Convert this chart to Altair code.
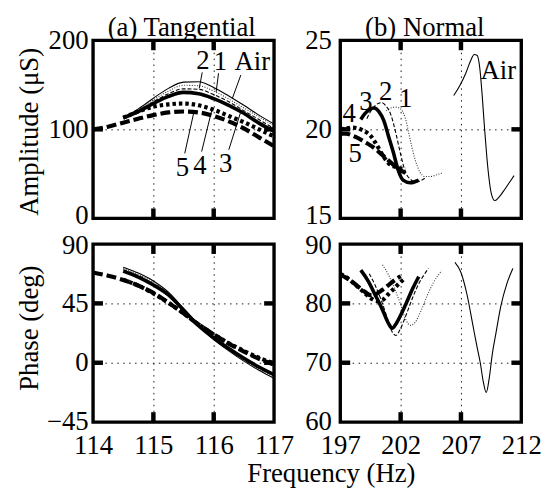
import altair as alt
import pandas as pd

FONT = "Liberation Serif"
FS = 27
W, H = 183, 180

# ---------------- (a) Tangential : amplitude (uS) ----------------
ta_f_long = [114.0, 114.25, 114.5, 114.75, 115.0, 115.25, 115.5, 115.75, 116.0, 116.25, 116.5, 116.75, 117.0]
ta_f = [114.5, 114.75, 115.0, 115.25, 115.5, 115.75, 116.0, 116.25, 116.5, 116.75, 117.0]
ta_5 = [100, 103, 107.5, 112, 116, 119, 120, 119, 115, 109, 101, 91, 81]
ta_4 = [113, 120, 125.5, 128, 129, 127, 122, 115, 108, 100, 92]
ta_3 = [113, 120, 129, 137, 141.5, 140, 134.5, 127, 118, 107, 98]
ta_2 = [113, 121, 131, 140, 145.5, 145, 139, 131, 121, 111, 101]
ta_1 = [113, 122, 133, 143, 149.5, 149, 143, 134, 124, 114, 104]
ta_air = [113, 123, 135, 146, 153, 153.5, 147, 137.5, 127, 116, 106]

# ---------------- (a) Tangential : phase (deg) ----------------
tp_5 = [68.5, 66, 62.8, 58.5, 53, 45.5, 37.5, 29, 21.5, 14.5, 8.5, 3, -1.5]
tp_4 = [63, 58.5, 52.5, 45.5, 37.5, 29, 21.5, 14.8, 9, 3.8, -0.5]
tp_3 = [69.5, 65, 59, 51.5, 40, 28, 18.8, 10.8, 3.4, -3.2, -9]
tp_2 = [70.5, 66, 60, 52, 40.3, 28, 18.3, 10, 2.5, -4.2, -10]
tp_1 = [71.5, 67, 61, 52.7, 40.7, 28, 18, 9.5, 1.8, -5, -11]
tp_air = [72.5, 68, 62, 53.5, 41, 28, 17.6, 9, 1.2, -5.7, -11.8]

# ---------------- (b) Normal : amplitude (uS) ----------------
na_f_5 = [197.0, 197.5, 198.0, 198.5, 199.0, 199.5, 200.0, 200.5, 201.0, 201.5, 202.0, 202.4]
na_5 = [19.75, 19.75, 19.65, 19.5, 19.3, 19.1, 18.85, 18.55, 18.25, 17.95, 17.7, 17.55]
na_f_4 = [197.0, 197.5, 198.0, 198.5, 199.0, 199.5, 200.0, 200.5, 201.0, 201.5, 202.0, 202.4]
na_4 = [20.0, 20.05, 20.1, 20.05, 19.9, 19.65, 19.15, 18.55, 18.1, 17.9, 17.8, 17.75]
na_f_3 = [198.7, 199.0, 199.4, 199.8, 200.2, 200.6, 201.0, 201.4, 201.8, 202.2, 202.8, 203.5]
na_3 = [20.55, 20.85, 21.1, 21.2, 21.0, 20.5, 19.6, 18.7, 17.7, 17.15, 17.0, 17.15]
na_f_2 = [199.2, 199.6, 200.0, 200.4, 200.8, 201.2, 201.6, 202.0, 202.4, 202.8, 203.3, 204.0]
na_2 = [20.6, 21.1, 21.4, 21.5, 21.3, 20.8, 19.8, 18.6, 17.6, 17.2, 17.05, 17.25]
na_f_1 = [200.8, 201.2, 201.6, 202.0, 202.4, 202.8, 203.2, 203.6, 204.0, 204.5, 205.0, 205.5]
na_1 = [21.05, 21.2, 21.25, 21.15, 20.6, 19.4, 18.3, 17.6, 17.35, 17.35, 17.45, 17.55]
na_f_air = [206.4, 206.9, 207.4, 207.8, 208.1, 208.35, 208.55, 208.75, 208.95, 209.15, 209.35,
            209.55, 209.8, 210.1, 210.5, 211.0, 211.4]
na_air = [21.9, 22.45, 23.15, 23.85, 24.2, 24.15, 23.5, 22.0, 20.1, 18.4, 17.1,
          16.3, 16.0, 16.15, 16.5, 17.0, 17.4]

# ---------------- (b) Normal : phase (deg) ----------------
np_f_5 = [197.0, 197.5, 198.0, 198.5, 199.0, 199.5, 200.0, 200.5, 201.0, 201.5, 202.0]
np_5 = [84.8, 84.3, 83.6, 82.8, 82.0, 81.4, 81.6, 82.3, 83.1, 83.9, 84.6]
np_f_4 = [197.0, 197.5, 198.0, 198.5, 199.0, 199.5, 200.0, 200.5, 201.0, 201.5, 202.0, 202.4]
np_4 = [85.0, 84.4, 83.6, 82.7, 81.8, 80.9, 80.4, 80.6, 81.6, 82.6, 83.6, 84.3]
np_f_3 = [198.7, 199.3, 199.9, 200.5, 201.0, 201.3, 201.6, 202.0, 202.5, 203.0, 203.5]
np_3 = [85.6, 83.8, 81.4, 78.9, 76.6, 75.8, 76.5, 78.0, 80.2, 82.5, 84.5]
np_f_2 = [199.4, 199.9, 200.4, 200.9, 201.3, 201.6, 202.0, 202.5, 203.0, 203.5, 204.0, 204.3]
np_2 = [85.0, 83.0, 80.5, 77.5, 75.2, 74.6, 75.8, 78.3, 81.0, 83.3, 85.0, 85.9]
np_f_1 = [200.5, 201.0, 201.5, 202.0, 202.4, 202.8, 203.2, 203.7, 204.2, 204.8, 205.4]
np_1 = [86.5, 84.8, 82.5, 79.8, 77.4, 76.3, 76.8, 78.8, 81.3, 83.8, 85.5]
np_f_air = [206.5, 207.0, 207.5, 208.0, 208.3, 208.6, 208.85, 209.1, 209.35, 209.6, 209.9, 210.3, 210.8, 211.3]
np_air = [86.9, 85.2, 81.5, 76.2, 73.0, 70.0, 66.8, 65.0, 67.5, 71.5, 75.0, 79.5, 83.3, 85.9]

# ---------------- annotations ----------------
ta_lab_t = ["2", "1", "Air", "5", "4", "3"]
ta_lab_x = [115.82, 116.11, 116.64, 115.48, 115.77, 116.2]
ta_lab_y = [177, 176, 175, 56, 59, 61.5]
ta_lead_x = [115.81, 116.08, 116.45, 115.52, 115.8, 116.25]
ta_lead_y = [164, 163, 161, 73, 75, 77]
ta_lead_x2 = [115.76, 116.04, 116.31, 115.67, 115.97, 116.45]
ta_lead_y2 = [146, 142, 135, 119, 122, 120]

na_lab_t = ["1", "2", "3", "4", "5", "Air"]
na_lab_x = [202.41, 200.77, 199.13, 197.74, 198.23, 210.1]
na_lab_y = [21.7, 22.09, 21.54, 20.88, 18.63, 23.3]

# panel titles, anchored (in frequency units) near the middle of each top panel
panel_titles = ["(a) Tangential", "(b) Normal"]
panel_title_f = [115.47, 204.0]

# ---------------- axes ----------------
ta_xticks = [114, 115, 116, 117]
ta_yticks = [0, 100, 200]
tp_yticks = [-45, 0, 45, 90]
nb_xticks = [197, 202, 207, 212]
na_yticks = [15, 20, 25]
np_yticks = [60, 70, 80, 90]

STY = {
    "Air": dict(strokeWidth=1.1, color="black"),
    "1": dict(strokeWidth=1.1, color="#333333", strokeDash=[1, 1.6]),
    "2": dict(strokeWidth=1.1, color="black", strokeDash=[4, 2]),
    "3": dict(strokeWidth=3.6, color="black"),
    "4": dict(strokeWidth=4.2, color="black", strokeDash=[3.5, 3]),
    "5": dict(strokeWidth=4.2, color="black", strokeDash=[10, 4]),
}

GRID = dict(grid=True, gridDash=[1.5, 4.5], gridColor="black", gridWidth=1, gridOpacity=0.9,
            domain=False, ticks=False, labelFont=FONT, labelFontSize=FS, labelColor="black",
            labelFlush=False, labelOverlap=False, format="d")


def x_axis(values, show_labels=True, title=None, tx=0, ty=0):
    kw = dict(GRID, values=values, labelPadding=11, labels=show_labels)
    if title:
        kw.update(title=title, titleFont=FONT, titleFontSize=FS, titleFontWeight="normal",
                  titleColor="black", titleX=tx, titleY=ty, titleAlign="center",
                  titleBaseline="alphabetic")
    else:
        kw["title"] = None
    return alt.Axis(**kw)


def y_axis(values, pad, nudge_val, nudge, title=None, tx=0, ty=0):
    kw = dict(GRID, values=values, labelPadding=pad,
              labelOffset={"condition": {"test": f"datum.value == {nudge_val}", "value": nudge},
                           "value": 0})
    if title:
        kw.update(title=title, titleFont=FONT, titleFontSize=FS, titleFontWeight="normal",
                  titleColor="black", titleX=tx, titleY=ty, titleAngle=270, titleAlign="center",
                  titleBaseline="middle")
    else:
        kw["title"] = None
    return alt.Axis(**kw)


def panel(series, xdom, xax, xvals, ydom, yax, yvals, title=None, title_f=None,
          labels=None, leaders=None):
    xs = alt.Scale(domain=xdom, nice=False, zero=False)
    ys = alt.Scale(domain=ydom, nice=False, zero=False)
    X = lambda: alt.X("f:Q", scale=xs, axis=xax)
    Y = lambda: alt.Y("v:Q", scale=ys, axis=yax)
    layers = []
    for name, fx, fy in series:
        df = pd.DataFrame({"f": fx, "v": fy})
        layers.append(
            alt.Chart(df).mark_line(interpolate="monotone", strokeCap="butt", **STY[name]).encode(
                x=X(), y=Y())
        )
    if leaders is not None:
        layers.append(
            alt.Chart(pd.DataFrame(leaders)).mark_rule(strokeWidth=1, color="black").encode(
                x=X(), y=Y(), x2="f2:Q", y2="v2:Q")
        )
    if labels is not None:
        layers.append(
            alt.Chart(pd.DataFrame(labels)).mark_text(font=FONT, fontSize=FS, color="black",
                                                      align="center", baseline="middle").encode(
                x=X(), y=Y(), text="t:N")
        )
    # inward ticks on all four sides at the interior tick values
    xin = pd.DataFrame({"f": xvals[1:-1]})
    yin = pd.DataFrame({"v": yvals[1:-1]})
    for a, b in [(H, H - 10), (0, 10)]:
        layers.append(alt.Chart(xin).mark_rule(strokeWidth=4.5, color="black").encode(
            x=X(), y=alt.value(a), y2=alt.value(b)))
    for a, b in [(0, 10), (W, W - 10)]:
        layers.append(alt.Chart(yin).mark_rule(strokeWidth=4.5, color="black").encode(
            y=Y(), x=alt.value(a), x2=alt.value(b)))
    if title:
        layers.append(alt.Chart(pd.DataFrame({"t": [title], "f": [title_f]})).mark_text(
            font=FONT, fontSize=FS, color="black", align="center", baseline="alphabetic").encode(
            text="t:N", x=X(), y=alt.value(-4)))
    return alt.layer(*layers).properties(width=W, height=H)


tl = panel(
    [("Air", ta_f, ta_air), ("1", ta_f, ta_1), ("2", ta_f, ta_2), ("3", ta_f, ta_3),
     ("4", ta_f, ta_4), ("5", ta_f_long, ta_5)],
    [114, 117], x_axis(ta_xticks, False), ta_xticks, [0, 200],
    y_axis(ta_yticks, 5, 0, -3, "Amplitude (\u03bcS)", -64, 92), ta_yticks,
    panel_titles[0], panel_title_f[0],
    labels={"f": ta_lab_x, "v": ta_lab_y, "t": ta_lab_t},
    leaders={"f": ta_lead_x, "v": ta_lead_y, "f2": ta_lead_x2, "v2": ta_lead_y2},
)
tr = panel(
    [("Air", na_f_air, na_air), ("1", na_f_1, na_1), ("2", na_f_2, na_2), ("3", na_f_3, na_3),
     ("4", na_f_4, na_4), ("5", na_f_5, na_5)],
    [197, 212], x_axis(nb_xticks, False), nb_xticks, [15, 25],
    y_axis(na_yticks, 9, 15, -3), na_yticks,
    panel_titles[1], panel_title_f[1],
    labels={"f": na_lab_x, "v": na_lab_y, "t": na_lab_t},
)
bl = panel(
    [("Air", ta_f, tp_air), ("1", ta_f, tp_1), ("2", ta_f, tp_2), ("3", ta_f, tp_3),
     ("4", ta_f, tp_4), ("5", ta_f_long, tp_5)],
    [114, 117], x_axis(ta_xticks, True, "Frequency (Hz)", 240.5, 60), ta_xticks, [-45, 90],
    y_axis(tp_yticks, 5, 90, 1.5, "Phase (deg)", -64, 84.5), tp_yticks,
)
br = panel(
    [("Air", np_f_air, np_air), ("1", np_f_1, np_1), ("2", np_f_2, np_2), ("3", np_f_3, np_3),
     ("4", np_f_4, np_4), ("5", np_f_5, np_5)],
    [197, 212], x_axis(nb_xticks), nb_xticks, [60, 90],
    y_axis(np_yticks, 9, 90, 1.5), np_yticks,
)

chart = alt.concat(
    tl, tr, bl, br, columns=2,
    spacing=alt.RowColnumber(row=26, column=67), bounds="flush",
).properties(
    padding={"left": 6, "top": 2, "right": 4, "bottom": 0}
).configure_view(stroke="black", strokeWidth=3.4)

chart.save("out.html", embed_options={"renderer": "svg", "actions": False})
